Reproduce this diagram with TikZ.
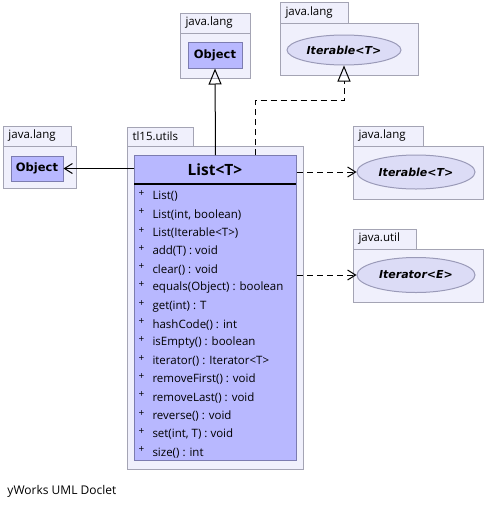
\documentclass[tikz,border=0pt]{standalone}
\usepackage{fontspec}
\setmainfont{Open Sans}
\newfontfamily\dejavu{DejaVu Sans}
\usepackage{tikz}
\usetikzlibrary{arrows.meta,calc,positioning,shapes.geometric}
\definecolor{pkgfill}{HTML}{F0F0FC}
\definecolor{pkgline}{HTML}{A4A4B4}
\definecolor{clsfill}{HTML}{B8B8FF}
\definecolor{clsline}{HTML}{7C7CB0}
\definecolor{ifcfill}{HTML}{DCDCF6}
\definecolor{ifcline}{HTML}{9A9AB8}

\begin{document}
\begin{tikzpicture}[x=1pt,y=-1pt,line width=1pt,
  pkg/.style={draw=pkgline,fill=pkgfill},
  pkglabel/.style={anchor=west,inner sep=0pt,font=\fontsize{11.5}{13}\selectfont},
  cls/.style={draw=clsline,fill=clsfill,inner sep=0pt},
  ifc/.style={ellipse,draw=ifcline,fill=ifcfill,inner sep=0pt,
    font=\dejavu\bfseries\itshape\fontsize{11}{13}\selectfont},
  member/.style={anchor=west,inner sep=0pt,font=\fontsize{11.5}{13}\selectfont},
  gen/.style={-{Triangle[open,length=16pt,width=13pt]}},
  real/.style={dash pattern=on 6pt off 4pt,-{Triangle[open,length=16pt,width=13pt]}},
  dep/.style={dash pattern=on 6pt off 4pt,-{Straight Barb[length=8pt,width=10pt]}}]

  \useasboundingbox[fill=white] (0,0) rectangle (486,507);

  % packages
  \draw[pkg] (180,13) rectangle (250,33);
  \draw[pkg] (180,33) rectangle (250,78);
  \node[pkglabel] (pkgobjtop) at (185,23) {java.lang};
  \draw[pkg] (280,2) rectangle (348,23);
  \draw[pkg] (280,23) rectangle (418,75);
  \node[pkglabel] (pkgitertop) at (285,12.5) {java.lang};
  \draw[pkg] (3,126) rectangle (71,146);
  \draw[pkg] (3,146) rectangle (76,188);
  \node[pkglabel] (pkgobjleft) at (8,136) {java.lang};
  \draw[pkg] (127,127) rectangle (193,146);
  \draw[pkg] (127,146) rectangle (303,469);
  \node[pkglabel] (pkgutils) at (132,136.5) {tl15.utils};
  \draw[pkg] (353,126) rectangle (423,146);
  \draw[pkg] (353,146) rectangle (483,199);
  \node[pkglabel] (pkgiterright) at (358,136) {java.lang};
  \draw[pkg] (353,229) rectangle (416,249);
  \draw[pkg] (353,249) rectangle (483,302);
  \node[pkglabel] (pkgiterator) at (358,239) {java.util};

  % classes and interfaces
  \node[cls,minimum width=54pt,minimum height=26pt] (objtop) at (215,55)
    {\dejavu\bfseries\fontsize{11.5}{13}\selectfont Object};
  \node[cls,minimum width=52pt,minimum height=25pt] (objleft) at (37,168.5)
    {\dejavu\bfseries\fontsize{11.5}{13}\selectfont Object};
  \node[ifc,minimum width=114pt,minimum height=30pt] (itertop) at (344,50) {Iterable<T>};
  \node[ifc,minimum width=118pt,minimum height=34pt] (iterright) at (416,172) {Iterable<T>};
  \node[ifc,minimum width=118pt,minimum height=35pt] (iterator) at (416,275) {Iterator<E>};

  \node[cls,minimum width=162pt,minimum height=305pt,anchor=north west] (listcls) at (134,155) {};
  \node[font=\bfseries\fontsize{15.5}{18}\selectfont] (listtitle) at (215,170) {List<T>};
  \draw[line width=2.5pt] (134,184) -- (296,184);
  \foreach \m [count=\i from 0] in {List(), {List(int, boolean)}, List(Iterable<T>),
      add(T) : void, clear() : void, equals(Object) : boolean, get(int) : T,
      hashCode() : int, isEmpty() : boolean, iterator() : Iterator<T>,
      removeFirst() : void, removeLast() : void, reverse() : void,
      {set(int, T) : void}, size() : int}
  {
    \node[font=\fontsize{10}{11}\selectfont,inner sep=0pt] at (141.5,193.5+18.3*\i) {+};
    \node[member] at (152,196.5+18.3*\i) {\m};
  }

  % relations
  \draw[gen] (listcls.north) -- (objtop.south);
  \draw[real] ([xshift=40pt]listcls.north) -- ++(0,-55) -| (itertop.south);
  \draw[-{Straight Barb[length=8pt,width=10pt]}] (listcls.west |- objleft) -- (objleft.east);
  \draw[dep] (listcls.east |- iterright) -- (iterright.west);
  \draw[dep] (listcls.east |- iterator) -- (iterator.west);

  \node[anchor=west,inner sep=0pt,font=\fontsize{12}{14}\selectfont] (footer) at (7,491) {yWorks UML Doclet};
\end{tikzpicture}
\end{document}
